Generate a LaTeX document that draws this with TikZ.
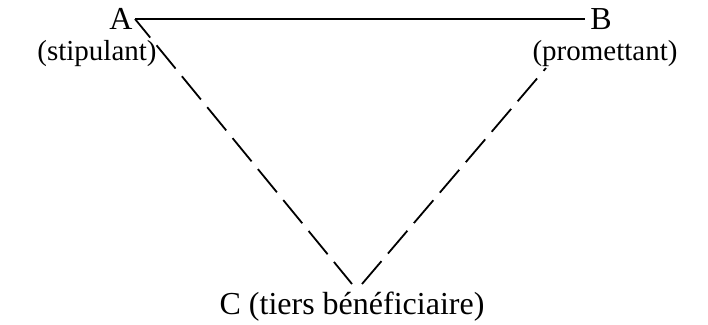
\documentclass[tikz,border=0pt]{standalone}
\usepackage{fontspec}
\setmainfont{Liberation Serif}
\usepackage{tikz}

\begin{document}
\begin{tikzpicture}[
  x=1pt, y=-1pt,
  font=\fontsize{32}{38}\selectfont,
  party/.style={anchor=base, inner sep=0pt},
  role/.style={anchor=base, inner sep=0pt, font=\fontsize{29}{34}\selectfont},
  link/.style={line width=1.8pt},
  tierslink/.style={line width=1.8pt, dash pattern=on 30pt off 10pt}
]
\useasboundingbox (0,0) rectangle (708,324);

% Nodes
\node[party] (A) at (121,29) {A};
\node[role] (As) at (97,60) {(stipulant)};
\node[party] (B) at (601,29) {B};
\node[role] (Bp) at (605,60) {(promettant)};
\node[party] (C) at (352,314) {C (tiers bénéficiaire)};

% Corners of the triangle
\coordinate (a) at (135,19);
\coordinate (b) at (585,19);
\coordinate (bt) at (546,68);
\coordinate (cl) at (352,284);
\coordinate (cr) at (362,284);

% Lines
\draw[link] (a) -- (b);
\draw[tierslink, dash phase=6pt] (a) -- (cl);
\draw[tierslink] (cr) -- (bt);

\end{tikzpicture}
\end{document}
